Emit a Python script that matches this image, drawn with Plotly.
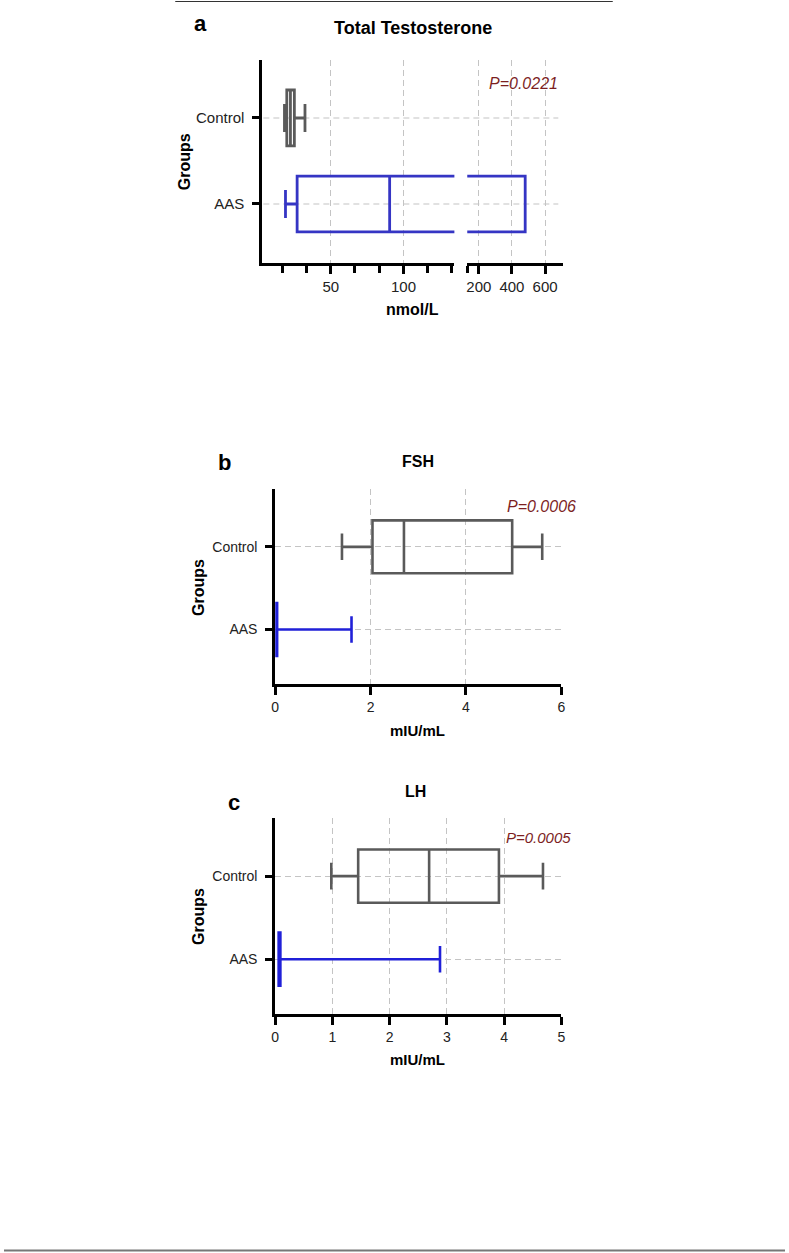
import plotly.graph_objects as go

W, H = 789, 1253

# ---------------- data ----------------
groups = ["Control", "AAS"]
group_pos = [1, 0]

# Total testosterone (nmol/L)
tt_min = [18.2, 18.9]
tt_q1 = [19.8, 26.9]
tt_med = [22.3, 90.5]
tt_q3 = [25.0, 480.0]
tt_max = [32.3, 480.0]

# FSH (mIU/mL)
fsh_min = [1.40, 0.02]
fsh_q1 = [2.04, 0.02]
fsh_med = [2.70, 0.03]
fsh_q3 = [4.97, 0.04]
fsh_max = [5.60, 1.60]

# LH (mIU/mL)
lh_min = [0.98, 0.06]
lh_q1 = [1.45, 0.06]
lh_med = [2.69, 0.075]
lh_q3 = [3.91, 0.09]
lh_max = [4.68, 2.88]

titles = ["Total Testosterone", "FSH", "LH"]
panel_letters = ["a", "b", "c"]
p_values = ["P=0.0221", "P=0.0006", "P=0.0005"]
x_titles = ["nmol/L", "mIU/mL", "mIU/mL"]

tt_left_ticks = [50, 100]
tt_right_ticks = [200, 400, 600]
fsh_ticks = [0, 2, 4, 6]
lh_ticks = [0, 1, 2, 3, 4, 5]

# ---------------- style ----------------
GRAY = "#5a5a5a"
BLUE_A = "#3535c4"
BLUE = "#2020d8"
PRED = "#7d1f1f"
FONT = "Liberation Sans, Arial, sans-serif"
GRID = "#c4c4c4"
DASH = "6px,4px"


def px_x(p):
    return p / W


def px_y(p):
    return 1 - p / H


fig = go.Figure()


def add_boxes(xa, ya, mins, q1s, meds, q3s, maxs, colors, width=0.64, lw=2.6):
    for i, g in enumerate(groups):
        fig.add_trace(go.Box(
            name=g, orientation="h", y=[group_pos[i]],
            lowerfence=[mins[i]], q1=[q1s[i]], median=[meds[i]],
            q3=[q3s[i]], upperfence=[maxs[i]],
            boxpoints=False, width=width, whiskerwidth=0.5,
            line=dict(color=colors[i], width=lw),
            fillcolor="rgba(0,0,0,0)",
            xaxis=xa, yaxis=ya, showlegend=False, hoverinfo="skip",
        ))


# panel a: broken axis -> same boxes on both segments
add_boxes("x", "y", tt_min, tt_q1, tt_med, tt_q3, tt_max, [GRAY, BLUE_A], 0.65, 2.8)
add_boxes("x2", "y", tt_min, tt_q1, tt_med, tt_q3, tt_max, [GRAY, BLUE_A], 0.65, 2.8)
# panel b
add_boxes("x3", "y3", fsh_min, fsh_q1, fsh_med, fsh_q3, fsh_max, [GRAY, BLUE])
# panel c
add_boxes("x4", "y4", lh_min, lh_q1, lh_med, lh_q3, lh_max, [GRAY, BLUE])

axis_common = dict(showline=True, linecolor="black", linewidth=3,
                   ticks="outside", tickcolor="black", tickwidth=3,
                   zeroline=False, fixedrange=True)

ycommon = dict(axis_common, ticklen=7, tickvals=group_pos, ticktext=groups,
               ticklabelstandoff=5,
               tickfont=dict(family=FONT, size=14, color="#222"))

# domains (pixel based)
a_dom_y = [px_y(263), px_y(60)]
b_dom_y = [px_y(684), px_y(489)]
c_dom_y = [px_y(1014), px_y(818)]
bc_dom_x = [px_x(274), px_x(563)]

gridstyle = dict(showgrid=True, gridcolor=GRID, griddash=DASH, gridwidth=1.2)

fig.update_layout(
    width=W, height=H, margin=dict(l=0, r=0, t=0, b=0),
    paper_bgcolor="white", plot_bgcolor="white",
    showlegend=False,
    # ---- panel a
    xaxis=dict(axis_common, **gridstyle, domain=[px_x(261), px_x(455)], anchor="y",
               range=[3, 135], tickvals=tt_left_ticks, ticklen=8,
               tickfont=dict(family=FONT, size=15, color="#222"),
               minor=dict(tick0=0, dtick=50 / 3, ticks="outside", ticklen=7,
                          tickwidth=3, tickcolor="black", showgrid=False)),
    xaxis2=dict(axis_common, **gridstyle, domain=[px_x(468), px_x(565)], anchor="y",
                range=[130, 710], tickvals=tt_right_ticks, ticklen=8,
                tickfont=dict(family=FONT, size=15, color="#222"),
                minor=dict(tickmode="array", tickvals=[132], ticks="outside",
                           ticklen=7, tickwidth=3, tickcolor="black", showgrid=False)),
    yaxis=dict(ycommon, domain=a_dom_y, anchor="x", range=[-0.686, 1.674],
               showgrid=False, tickfont=dict(family=FONT, size=15, color="#222")),
    # ---- panel b
    xaxis3=dict(axis_common, **gridstyle, domain=bc_dom_x, anchor="y3", range=[0, 6],
                tickvals=fsh_ticks, ticklen=8,
                tickfont=dict(family=FONT, size=14, color="#222")),
    yaxis3=dict(ycommon, **gridstyle, domain=b_dom_y, anchor="x3", range=[-0.66, 1.70]),
    # ---- panel c
    xaxis4=dict(axis_common, **gridstyle, domain=bc_dom_x, anchor="y4", range=[0, 5],
                tickvals=lh_ticks, ticklen=8,
                tickfont=dict(family=FONT, size=14, color="#222")),
    yaxis4=dict(ycommon, **gridstyle, domain=c_dom_y, anchor="x4", range=[-0.66, 1.70]),
)

# horizontal gridlines of panel a, continuous across the axis break
shapes = []
for p in group_pos:
    shapes.append(dict(type="line", xref="paper", yref="y", layer="below",
                       x0=px_x(262), x1=px_x(560), y0=p, y1=p,
                       line=dict(color=GRID, width=1.2, dash=DASH)))
# page rules
shapes.append(dict(type="line", xref="paper", yref="paper",
                   x0=px_x(173), x1=px_x(615), y0=px_y(1.5), y1=px_y(1.5),
                   line=dict(color="#333", width=1)))
shapes.append(dict(type="line", xref="paper", yref="paper",
                   x0=0, x1=1, y0=px_y(1250.5), y1=px_y(1250.5),
                   line=dict(color="#777", width=2)))
fig.update_layout(shapes=shapes)

ann = []


def text(x, y, s, size, bold=False, italic=False, color="black", angle=0):
    t = s
    if bold:
        t = "<b>" + t + "</b>"
    if italic:
        t = "<i>" + t + "</i>"
    ann.append(dict(x=px_x(x), y=px_y(y), xref="paper", yref="paper", text=t,
                    showarrow=False, xanchor="center", yanchor="middle",
                    textangle=angle,
                    font=dict(family=FONT, size=size, color=color)))


# panel letters
text(198.5, 24, panel_letters[0], 22, bold=True)
text(223, 463, panel_letters[1], 22, bold=True)
text(232, 802, panel_letters[2], 22, bold=True)
# titles
text(413, 28, titles[0], 18, bold=True)
text(418, 462, titles[1], 16, bold=True)
text(416, 792, titles[2], 16, bold=True)
# p values
text(525, 83, p_values[0], 16, italic=True, color=PRED)
text(543, 506, p_values[1], 16, italic=True, color=PRED)
text(540, 837, p_values[2], 15, italic=True, color=PRED)
# x-axis titles
text(413, 310, x_titles[0], 16, bold=True)
text(418, 730, x_titles[1], 15, bold=True)
text(418, 1059, x_titles[2], 15, bold=True)
# y-axis titles
text(182, 162, "Groups", 16, bold=True, angle=-90)
text(197, 588, "Groups", 16, bold=True, angle=-90)
text(197, 917, "Groups", 16, bold=True, angle=-90)

fig.update_layout(annotations=ann)

fig.write_html("out.html", config={"displayModeBar": False},
               post_script="document.body.style.margin='0';")
